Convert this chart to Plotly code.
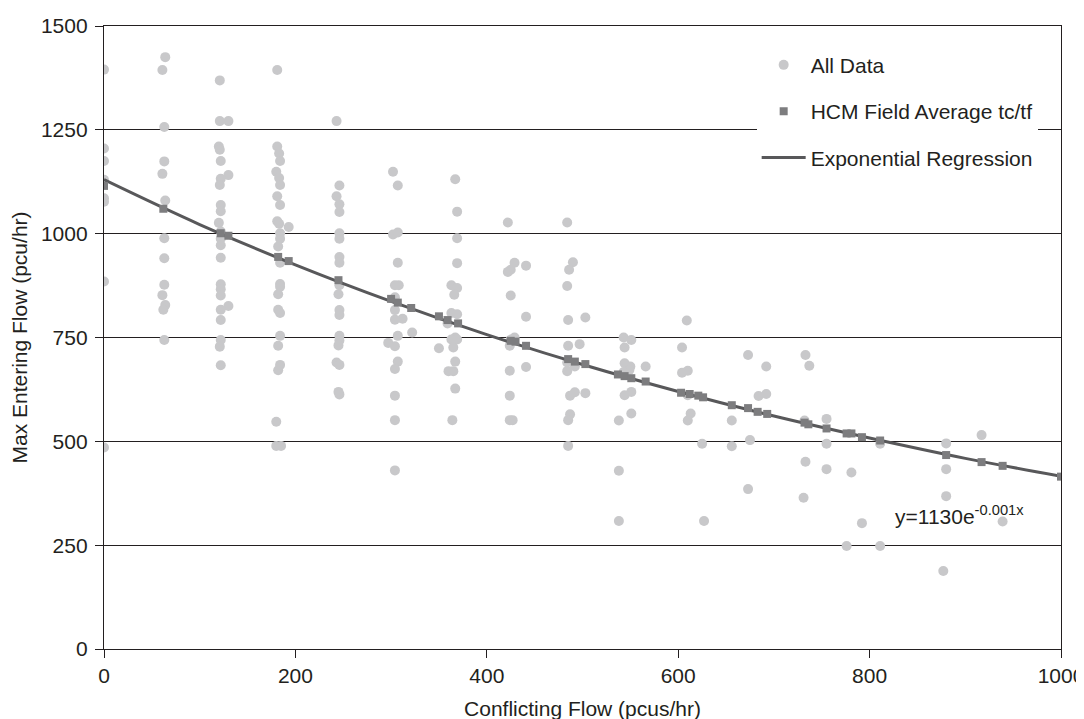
import plotly.graph_objects as go

# ---- All Data (conflicting flow, max entering flow) ----
all_x = [
    0, 0, 0, 0, 0, 0, 0, 0,
    64, 61, 63, 63, 61, 64, 63, 63, 63, 61, 64, 62, 63,
    121, 121, 130, 120, 121, 122, 130, 122, 121, 122, 122, 120, 122, 122, 122, 122, 122, 122, 122, 130, 122, 122, 122, 121, 122,
    181, 181, 183, 184, 180, 183, 184, 181, 184, 181, 183, 193, 184, 184, 182, 184, 184, 184, 182, 182, 184, 184, 182, 184, 182, 180, 180, 185,
    243, 246, 243, 246, 246, 246, 246, 246, 246, 246, 245, 246, 246, 246, 246, 245, 243, 246, 245, 246,
    302, 307, 302, 307, 307, 304, 308, 304, 304, 312, 304, 322, 307, 297, 304, 307, 304, 304, 304, 304,
    367, 369, 369, 369, 363, 369, 366, 363, 369, 359, 367, 363, 369, 365, 350, 367, 360, 365, 367, 364,
    422, 429, 425, 422, 441, 425, 441, 429, 425, 424, 441, 424, 424, 424, 427,
    484, 490, 486, 484, 503, 485, 497, 485, 484, 492, 484, 503, 492, 487, 487, 485, 485,
    543, 551, 544, 544, 550, 549, 543, 566, 551, 544, 551, 538, 538, 538,
    609, 604, 610, 604, 610, 613, 610, 625, 627,
    673, 692, 692, 684, 656, 656, 675, 673,
    733, 737, 732, 733, 731,
    755, 755, 755,
    781, 792, 776, 811, 811,
    880, 880, 880, 877,
    917, 939,
]
all_y = [
    1395, 1205, 1175, 1130, 1085, 1077, 885, 485,
    1425, 1394, 1257, 1174, 1144, 1080, 989, 941, 877, 852, 828, 817, 744,
    1369, 1271, 1271, 1210, 1202, 1175, 1141, 1132, 1117, 1069, 1054, 1026, 1005, 988, 972, 942, 878, 866, 851, 826, 817, 792, 744, 728, 683,
    1394, 1210, 1193, 1175, 1149, 1134, 1117, 1090, 1069, 1030, 1024, 1016, 1001, 988, 969, 930, 879, 872, 854, 817, 809, 754, 730, 684, 671, 547, 489, 489,
    1271, 1116, 1090, 1071, 1052, 1001, 988, 944, 930, 876, 854, 816, 804, 754, 743, 731, 690, 684, 619, 613,
    1149, 1116, 998, 1003, 930, 876, 876, 847, 816, 795, 793, 762, 754, 737, 729, 692, 674, 610, 551, 430,
    1131, 1053, 989, 929, 876, 869, 853, 809, 806, 784, 750, 745, 745, 726, 724, 692, 669, 669, 627, 551,
    1027, 930, 913, 908, 923, 851, 800, 750, 745, 730, 679, 670, 610, 551, 551,
    1027, 931, 913, 874, 798, 792, 734, 730, 690, 680, 669, 616, 618, 610, 565, 551, 489,
    750, 744, 726, 688, 680, 672, 667, 680, 619, 611, 567, 550, 429, 308,
    791, 726, 670, 665, 611, 567, 550, 494, 308,
    708, 680, 614, 609, 550, 488, 503, 385,
    708, 682, 550, 451, 364,
    554, 494, 433,
    425, 303, 248, 248, 494,
    495, 433, 368, 188,
    515, 307,
]

# ---- HCM Field Average tc/tf ----
hcm_x = [0, 62, 122, 130, 182, 193, 245, 300, 307, 321, 350, 359, 370, 425, 430, 441,
         485, 492, 503, 537, 544, 551, 566, 603, 612, 621, 626, 656, 673, 683, 693,
         732, 736, 755, 776, 781, 792, 811, 880, 917, 939, 1000]
hcm_y = [1115, 1060, 1001, 995, 944, 934, 888, 843, 834, 821, 801, 792, 784, 742, 740, 730,
         698, 692, 686, 661, 657, 652, 644, 617, 614, 610, 606, 587, 580, 571, 566,
         545, 541, 531, 519, 519, 510, 502, 467, 450, 441, 415]

# ---- Exponential regression curve ----
reg_x = [0, 100, 200, 300, 400, 500, 600, 700, 800, 900, 1000]
reg_y = [1130, 1022, 925, 837, 757, 685, 620, 561, 508, 459, 416]

x_ticks = [0, 200, 400, 600, 800, 1000]
y_ticks = [0, 250, 500, 750, 1000, 1250, 1500]

FONT = "Liberation Sans, Arial, sans-serif"
TXT = "#231f20"
FS = 21

fig = go.Figure()
fig.add_trace(go.Scatter(
    x=all_x, y=all_y, mode="markers", name="All Data",
    marker=dict(symbol="circle", size=10, color="#c8c8ca"),
    legendgroup="a", legendrank=1,
))
fig.add_trace(go.Scatter(
    x=reg_x, y=reg_y, mode="lines", name="Exponential Regression",
    line=dict(color="#58585a", width=3, shape="spline"),
    legendgroup="c", legendrank=3,
))
fig.add_trace(go.Scatter(
    x=hcm_x, y=hcm_y, mode="markers", name="HCM Field Average tc/tf",
    marker=dict(symbol="square", size=8, color="#7d7d7f"),
    legendgroup="b", legendrank=2,
))

fig.add_annotation(
    x=894, y=322, xref="x", yref="y",
    text="y=1130e<sup>-0.001x</sup>", showarrow=False,
    font=dict(family=FONT, size=FS, color=TXT),
)

# The page body adds an 8px offset; margins compensate so the plot area
# lands where the reference has it.
fig.update_layout(
    width=1084, height=719,
    margin=dict(l=96, r=31, t=18, b=78),
    paper_bgcolor="white", plot_bgcolor="white",
    font=dict(family=FONT, size=FS, color=TXT),
    showlegend=True,
    legend=dict(
        x=0.682, y=0.97, xanchor="left", yanchor="top",
        bgcolor="white", borderwidth=0, itemwidth=44,
        font=dict(family=FONT, size=FS, color=TXT),
        traceorder="grouped", tracegroupgap=16,
    ),
    xaxis=dict(
        range=[0, 1000], tickvals=x_ticks, ticks="outside", ticklen=8,
        tickcolor="#231f20", showgrid=False, zeroline=False, automargin=False,
        showline=True, linecolor="#231f20", linewidth=1.3, mirror=True,
        title=dict(text="Conflicting Flow (pcus/hr)", standoff=14,
                   font=dict(family=FONT, size=FS, color=TXT)),
        tickfont=dict(family=FONT, size=FS, color=TXT),
    ),
    yaxis=dict(
        range=[0, 1500], tickvals=y_ticks, ticks="outside", ticklen=8,
        tickcolor="#231f20", showgrid=True, gridcolor="#231f20", gridwidth=1.2,
        zeroline=False, automargin=False, ticklabelstandoff=3,
        showline=True, linecolor="#231f20", linewidth=1.3, mirror=True,
        title=dict(text="Max Entering Flow (pcu/hr)", standoff=17,
                   font=dict(family=FONT, size=FS, color=TXT)),
        tickfont=dict(family=FONT, size=FS, color=TXT),
    ),
)

fig.write_html("out.html")
